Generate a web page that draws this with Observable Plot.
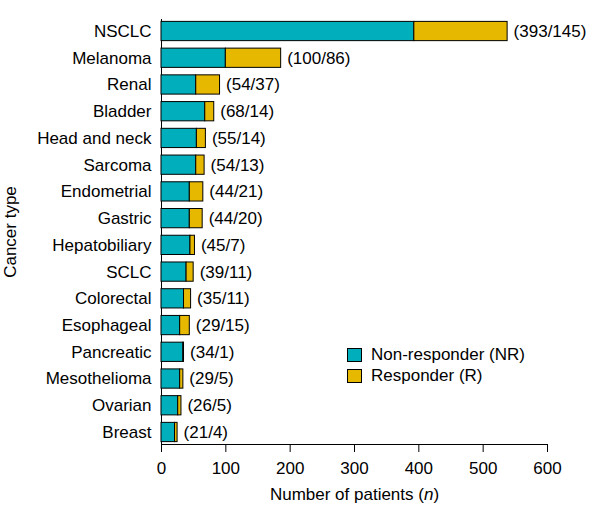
<!DOCTYPE html>
<html>
<head>
<meta charset="utf-8">
<script src="https://cdn.jsdelivr.net/npm/d3@7"></script>
<script src="https://cdn.jsdelivr.net/npm/@observablehq/plot@0.6"></script>
<style>
  body { margin: 0; background: white; }
  #wrap { position: relative; width: 597px; height: 516px; font-family: "Liberation Sans", Arial, sans-serif; }
  #legend { position: absolute; left: 347px; top: 344px; font-size: 17px; }
  #legend .item { display: flex; align-items: center; height: 21px; }
  #legend .sw { width: 13px; height: 12px; border: 1px solid #000; margin-right: 9px; }
</style>
</head>
<body>
<div id="wrap"><div id="chart"></div><div id="legend"></div></div>
<script>
const cancerTypes = ["NSCLC", "Melanoma", "Renal", "Bladder", "Head and neck", "Sarcoma", "Endometrial", "Gastric",
  "Hepatobiliary", "SCLC", "Colorectal", "Esophageal", "Pancreatic", "Mesothelioma", "Ovarian", "Breast"]
const nonResponders = [393, 100, 54, 68, 55, 54, 44, 44, 45, 39, 35, 29, 34, 29, 26, 21]
const responders = [145, 86, 37, 14, 14, 13, 21, 20, 7, 11, 11, 15, 1, 5, 5, 4]
const groups = ["Non-responder (NR)", "Responder (R)"]
const groupColors = ["#00AFBB", "#E7B800"]
const xTicks = [0, 100, 200, 300, 400, 500, 600]

// long table for the stacked bars
const rows = cancerTypes.flatMap((t, i) => [
  {type: t, group: groups[0], n: nonResponders[i]},
  {type: t, group: groups[1], n: responders[i]}
])
const totals = cancerTypes.map((t, i) => ({
  type: t,
  total: nonResponders[i] + responders[i],
  label: `(${nonResponders[i]}/${responders[i]})`
}))

const chart = Plot.plot({
  width: 597,
  height: 516,
  marginLeft: 161,
  marginRight: 50,
  marginTop: 19,
  marginBottom: 72,
  style: {fontFamily: "'Liberation Sans', Arial, sans-serif", fontSize: "17px", color: "#000", background: "white"},
  x: {domain: [0, 600], ticks: xTicks, line: true, tickSize: 8, tickPadding: 9,
      label: "Number of patients (n)", labelAnchor: "center", labelArrow: "none", labelOffset: 55},
  // band range runs a little past the frame so the bars sit like the original; no rounding
  y: {domain: cancerTypes, padding: 0.28, round: false, range: [13.9, 449.1], line: true, tickSize: 0, tickPadding: 10,
      label: "Cancer type", labelAnchor: "center", labelArrow: "none", labelOffset: 158},
  color: {domain: groups, range: groupColors},
  marks: [
    Plot.barX(rows, Plot.stackX({x: "n", y: "type", fill: "group", order: groups, stroke: "black", strokeWidth: 1})),
    Plot.text(totals, {x: "total", y: "type", text: "label", dx: 6, textAnchor: "start", fontSize: 17})
  ]
})

// italic n in the x label
d3.select(chart).selectAll("text").filter(function () { return this.textContent === "Number of patients (n)" })
  .html('Number of patients (<tspan font-style="italic">n</tspan>)')

d3.select("#chart").append(() => chart)

const legend = d3.select("#legend")
groups.forEach((g, i) => {
  const item = legend.append("div").attr("class", "item")
  item.append("div").attr("class", "sw").style("background", groupColors[i])
  item.append("span").text(g)
})
</script>
</body>
</html>
